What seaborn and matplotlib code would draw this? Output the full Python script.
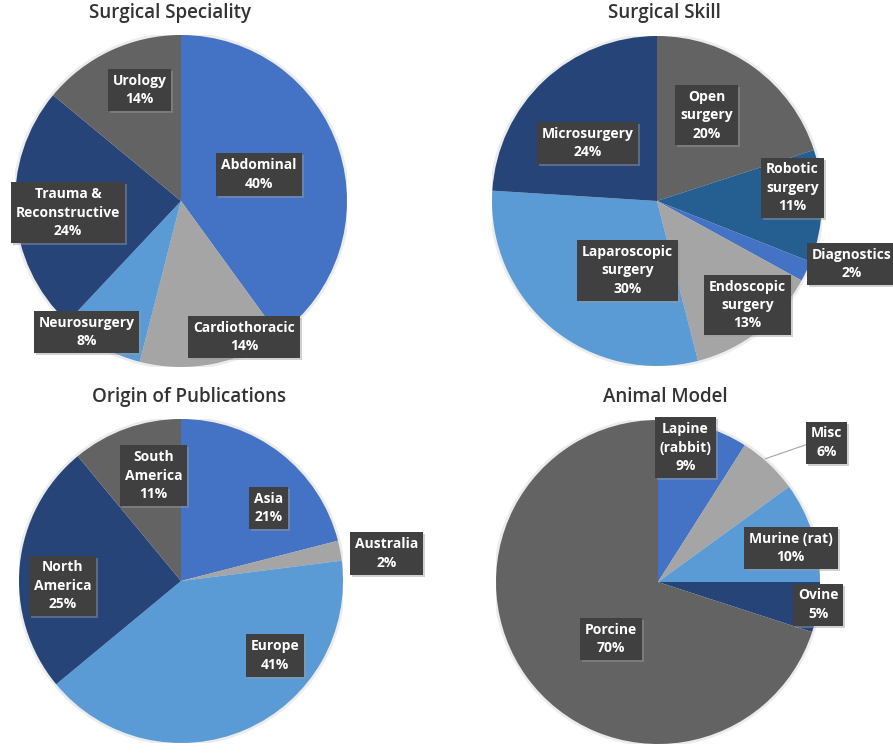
import matplotlib as mpl
import matplotlib.pyplot as plt
import matplotlib.transforms as mtransforms
import seaborn as sns

sns.set_theme(style="white")
mpl.rcParams['font.family'] = ['Open Sans', 'DejaVu Sans']

# DATA
spec_labels = ["Abdominal", "Cardiothoracic", "Neurosurgery", "Trauma &\nReconstructive", "Urology"]
spec_values = [40, 14, 8, 24, 14]
spec_colors = ["#4472C4", "#A5A5A5", "#5B9BD5", "#264478", "#636363"]

skill_labels = ["Open\nsurgery", "Robotic\nsurgery", "Diagnostics", "Endoscopic\nsurgery",
                "Laparoscopic\nsurgery", "Microsurgery"]
skill_values = [20, 11, 2, 13, 30, 24]
skill_colors = ["#636363", "#255E91", "#4472C4", "#A5A5A5", "#5B9BD5", "#264478"]

origin_labels = ["Asia", "Australia", "Europe", "North\nAmerica", "South\nAmerica"]
origin_values = [21, 2, 41, 25, 11]
origin_colors = ["#4472C4", "#A5A5A5", "#5B9BD5", "#264478", "#636363"]

animal_labels = ["Lapine\n(rabbit)", "Misc", "Murine (rat)", "Ovine", "Porcine"]
animal_values = [9, 6, 10, 5, 70]
animal_colors = ["#4472C4", "#A5A5A5", "#5B9BD5", "#264478", "#636363"]

# label box positions, relative to pie radius
spec_pos = [(0.47, 0.16), (0.38, -0.82), (-0.57, -0.79), (-0.68, -0.07), (-0.25, 0.67)]
skill_pos = [(0.30, 0.52), (0.82, 0.08), (1.18, -0.38), (0.55, -0.63), (-0.18, -0.42), (-0.42, 0.35)]
origin_pos = [(0.54, 0.45), (1.27, 0.17), (0.58, -0.46), (-0.73, -0.03), (-0.17, 0.65)]
animal_pos = [(0.17, 0.83), (1.04, 0.86), (0.82, 0.21), (0.99, -0.14), (-0.29, -0.35)]

W, H = 893, 753
fig = plt.figure(figsize=(W / 100, H / 100), dpi=100)

panels = [
    ("Surgical Speciality", spec_labels, spec_values, spec_colors, spec_pos, (181, 201, 166), (170, 13)),
    ("Surgical Skill", skill_labels, skill_values, skill_colors, skill_pos, (657, 201, 165), (664, 13)),
    ("Origin of Publications", origin_labels, origin_values, origin_colors, origin_pos, (181, 581, 162), (189, 397)),
    ("Animal Model", animal_labels, animal_values, animal_colors, animal_pos, (658, 582, 162), (665, 397)),
]

box = dict(boxstyle="square,pad=0.35", fc="#404040", ec="none")
shadow_box = dict(boxstyle="square,pad=0.35", fc="#9a9a9a", ec="none", alpha=0.45)

for title, labels, values, colors, pos, (cx, cy, r), (tx, ty) in panels:
    ax = fig.add_axes([(cx - r) / W, (H - cy - r) / H, 2 * r / W, 2 * r / H])
    # soft outline behind the pie
    ax.add_patch(plt.Circle((0, 0), 1.012, color="#ECECEC", zorder=0))
    ax.pie(values, colors=colors, startangle=90, counterclock=False, radius=1,
           wedgeprops=dict(linewidth=0))
    ax.set_xlim(-1, 1)
    ax.set_ylim(-1, 1)
    ax.set_aspect("equal")
    ax.axis("off")

    shadow = mtransforms.offset_copy(ax.transData, fig=fig, x=2, y=-2, units="dots")
    for lab, val, (x, y) in zip(labels, values, pos):
        txt = f"{lab}\n{val}%"
        ax.text(x, y, txt, transform=shadow, ha="center", va="center", fontsize=10,
                fontweight="bold", color="none", linespacing=1.4, zorder=4, bbox=shadow_box)
        ax.text(x, y, txt, ha="center", va="center", fontsize=10, fontweight="bold",
                color="white", linespacing=1.4, zorder=5, bbox=box)

    fig.text(tx / W, 1 - ty / H, title, ha="center", va="center", fontsize=13.5,
             fontweight="semibold", color="#333333")

# leader line for Misc (last axes = Animal Model), ends under the label box
ax.plot([0.66, 0.95], [0.76, 0.86], color="#A5A5A5", lw=0.8, zorder=3,
        solid_capstyle="butt")

plt.savefig("out.png", dpi=100)
plt.close()
